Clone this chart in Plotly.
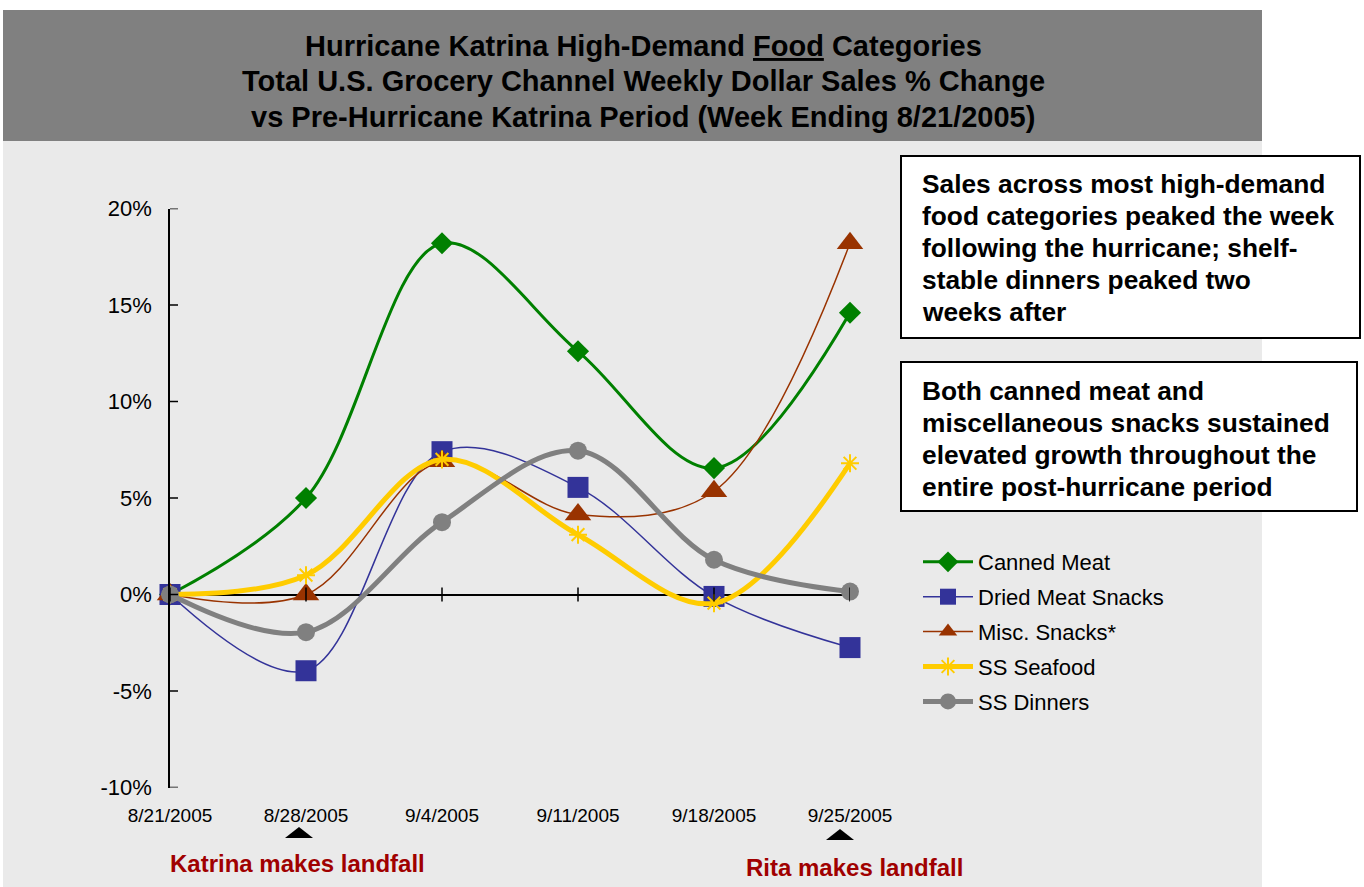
import plotly.graph_objects as go

# ---------------- data ----------------
weeks = ["8/21/2005", "8/28/2005", "9/4/2005", "9/11/2005", "9/18/2005", "9/25/2005"]
canned_meat = [0.0, 5.0, 18.2, 12.6, 6.55, 14.6]
dried_meat_snacks = [0.0, -3.95, 7.4, 5.55, -0.1, -2.75]
misc_snacks = [0.0, 0.0, 6.9, 4.15, 5.35, 18.2]
ss_seafood = [0.0, 1.0, 7.0, 3.1, -0.45, 6.8]
ss_dinners = [0.0, -1.95, 3.75, 7.45, 1.8, 0.15]

y_tickvals = [-10, -5, 0, 5, 10, 15, 20]
y_ticktext = ["-10%", "-5%", "0%", "5%", "10%", "15%", "20%"]

title_lines = [
    "Hurricane Katrina High-Demand <u>Food</u> Categories",
    "Total U.S. Grocery Channel Weekly Dollar Sales % Change",
    "vs Pre-Hurricane Katrina Period (Week Ending 8/21/2005)",
]
box1_lines = [
    "Sales across most high-demand",
    "food categories peaked the week",
    "following the hurricane; shelf-",
    "stable dinners peaked two",
    "weeks after",
]
box2_lines = [
    "Both canned meat and",
    "miscellaneous snacks sustained",
    "elevated growth throughout the",
    "entire post-hurricane period",
]

# ---------------- geometry helpers ----------------
W, H = 1364, 887
FONT = "Liberation Sans, Arial, sans-serif"


def px(x):
    return x / W


def py(y):
    return 1 - y / H


series = [
    ("Canned Meat", canned_meat, "#008000", 3, "diamond", 17),
    ("Dried Meat Snacks", dried_meat_snacks, "#333399", 1.5, "square", 21),
    ("Misc. Snacks*", misc_snacks, "#993300", 1.5, "triangle-up", 23),
    ("SS Seafood", ss_seafood, "#FFCC00", 5, "asterisk-open", 15),
    ("SS Dinners", ss_dinners, "#808080", 5, "circle", 18),
]

fig = go.Figure()
for i, (name, vals, color, lw, sym, ms) in enumerate(series):
    fig.add_trace(go.Scatter(
        x=weeks, y=vals, name=name, mode="lines+markers",
        line=dict(color=color, width=lw, shape="spline", smoothing=1.0),
        marker=dict(symbol=sym, size=ms, color=color,
                    line=dict(color=color, width=2 if sym == "asterisk-open" else 0)),
        cliponaxis=False, legendgroup=f"g{i}",
    ))

shapes = []
# backgrounds
shapes.append(dict(type="rect", xref="paper", yref="paper", x0=px(3), x1=px(1262),
                   y0=py(141), y1=py(10), fillcolor="#808080", line=dict(width=0), layer="below"))
shapes.append(dict(type="rect", xref="paper", yref="paper", x0=px(3), x1=px(1262),
                   y0=0, y1=py(141), fillcolor="#EAEAEA", line=dict(width=0), layer="below"))
# y-axis cross ticks
for v in y_tickvals:
    shapes.append(dict(type="line", xref="x", yref="y", xsizemode="pixel", xanchor=0,
                       x0=-8, x1=8, y0=v, y1=v, line=dict(color="black", width=1.5)))
# x-axis cross ticks on the zero line
for k in range(len(weeks)):
    shapes.append(dict(type="line", xref="x", yref="y", ysizemode="pixel", yanchor=0,
                       x0=k, x1=k, y0=-7, y1=7, line=dict(color="black", width=1.5)))
# text boxes
shapes.append(dict(type="rect", xref="paper", yref="paper", x0=px(901), x1=px(1360),
                   y0=py(338), y1=py(156), fillcolor="white", line=dict(color="black", width=2)))
shapes.append(dict(type="rect", xref="paper", yref="paper", x0=px(901), x1=px(1357),
                   y0=py(511), y1=py(362), fillcolor="white", line=dict(color="black", width=2)))
# landfall triangles
for (cx, by) in [(299, 838), (840, 840)]:
    shapes.append(dict(type="path", xref="paper", yref="paper",
                       path=f"M {px(cx-14)},{py(by)} L {px(cx+14)},{py(by)} L {px(cx)},{py(by-11)} Z",
                       fillcolor="black", line=dict(width=0)))

annotations = []
for t, yc in zip(title_lines, [46, 81, 117]):
    annotations.append(dict(text=f"<b>{t}</b>", xref="paper", yref="paper", x=px(643), y=py(yc),
                            xanchor="center", yanchor="middle", showarrow=False,
                            font=dict(family=FONT, size=29, color="black")))
for lines, y0 in [(box1_lines, 184), (box2_lines, 391)]:
    for j, t in enumerate(lines):
        annotations.append(dict(text=f"<b>{t}</b>", xref="paper", yref="paper", x=px(920),
                                y=py(y0 + 32 * j), xanchor="left", yanchor="middle",
                                showarrow=False, font=dict(family=FONT, size=26.3, color="black")))
annotations.append(dict(text="<b>Katrina makes landfall</b>", xref="paper", yref="paper",
                        x=px(297), y=py(863), xanchor="center", yanchor="middle", showarrow=False,
                        font=dict(family=FONT, size=24, color="#A00000")))
annotations.append(dict(text="<b>Rita makes landfall</b>", xref="paper", yref="paper",
                        x=px(854), y=py(867), xanchor="center", yanchor="middle", showarrow=False,
                        font=dict(family=FONT, size=24, color="#A00000")))

fig.update_layout(
    width=W, height=H,
    margin=dict(l=0, r=0, t=0, b=0, autoexpand=False),
    paper_bgcolor="white", plot_bgcolor="rgba(0,0,0,0)",
    shapes=shapes, annotations=annotations,
    font=dict(family=FONT, color="black"),
    showlegend=True,
    legend=dict(x=px(918), y=py(541), xanchor="left", yanchor="top",
                bgcolor="rgba(0,0,0,0)", font=dict(family=FONT, size=22, color="black"),
                tracegroupgap=3.3, itemwidth=50, traceorder="grouped"),
    xaxis=dict(domain=[px(170), px(850)], range=[0, 5], type="category",
               showgrid=False, showline=False, zeroline=False, ticks="",
               tickfont=dict(family=FONT, size=19, color="black"), ticklabelstandoff=14),
    yaxis=dict(domain=[py(787.5), py(208.5)], range=[-10, 20],
               tickvals=y_tickvals, ticktext=y_ticktext,
               showgrid=False, showline=True, linecolor="black", linewidth=1.5,
               zeroline=True, zerolinecolor="black", zerolinewidth=1.5, ticks="",
               tickfont=dict(family=FONT, size=22, color="black"), ticklabelstandoff=12),
)

fig.write_html("out.html")
